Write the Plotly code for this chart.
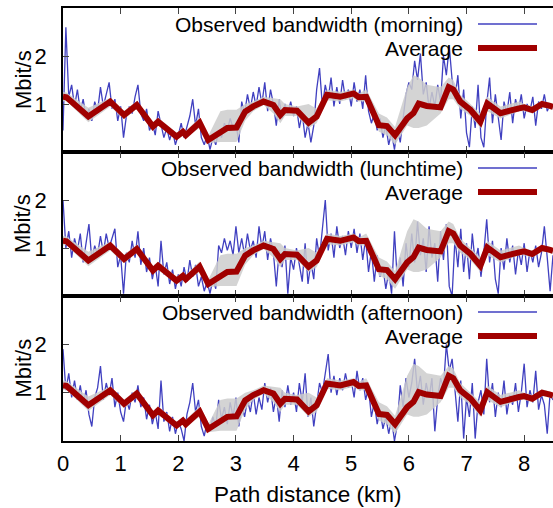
import numpy as np
import plotly.graph_objects as go
from plotly.subplots import make_subplots

# ---------------- data ----------------
periods = ["morning", "lunchtime", "afternoon"]

# observed bandwidth samples (Mbit/s), evenly spaced along 0..8.5 km
bw_morning = [
    0.45, 2.6, 1.15, 1.4, 0.95, 1.3, 0.85, 1.1, 0.7, 0.9,
    0.65, 1.05, 0.85, 1.35, 0.95, 1.2, 1.45, 0.9, 1.1, 0.65,
    0.95, 0.3, 0.75, 0.95, 0.8, 1.15, 1.4, 0.8, 0.65, 0.9,
    0.45, 0.6, 0.35, 0.85, 0.55, 0.3, 0.5, 0.25, 0.45, 0.15,
    0.35, 0.6, 0.3, 0.5, 0.75, 1.1, 0.55, 0.9, 0.3, 0.15,
    0.35, 0.05, 0.3, 0.15, 0.45, 0.3, 0.6, 0.45, 0.7, 0.5,
    0.6, 0.2, 1.05, 0.8, 1.2, 0.9, 1.25, 0.95, 1.35, 1.0,
    1.45, 0.85, 1.3, 1.0, 0.55, 1.1, 0.7, 1.0, 0.8, 1.05,
    0.75, 0.95, 0.5, 0.8, 0.3, 0.6, 0.2, 0.55, 1.3, 1.75,
    0.95, 1.4, 1.1, 1.55, 0.95, 1.35, 1.0, 1.5, 1.1, 1.3,
    0.95, 1.45, 1.05, 1.3, 0.9, 1.6, 0.85, 0.6, 0.8, 0.45,
    0.7, 0.3, 0.55, 0.15, 0.4, 0.05, 0.5, 0.2, 0.75, 1.2,
    1.45, 1.3, 1.9, 1.5, 2.05, 1.2, 1.45, 0.9, 1.25, 0.95,
    1.4, 1.05, 2.0, 1.6, 2.2, 1.5, 1.1, 1.6, 0.7, 1.3,
    0.4, 0.1, 0.95, 0.5, 1.4, 0.3, 0.1, 1.0, 1.55, 0.6,
    1.2, 0.7, 0.25, 1.05, 0.8, 1.25, 0.6, 1.1, 0.85, 1.2,
    0.7, 1.0, 0.85, 1.15, 0.55, 1.05, 0.9, 1.2, 0.85, 1.0,
    0.9,
]
bw_lunchtime = [
    2.0, 1.0, 1.35, 0.8, 1.2, 0.95, 1.3, 0.7, 1.1, 1.5,
    0.75, 1.05, 0.85, 1.25, 0.9, 1.3, 1.0, 1.2, 1.4, 0.6,
    0.85, 0.05, 0.9, 0.7, 1.15, 0.8, 1.35, 0.65, 1.0, 0.5,
    0.8, 0.35, 0.65, 0.2, 1.15, 0.45, 0.7, 0.25, 0.55, 0.15,
    0.45, 0.2, 0.6, 0.3, 0.75, 0.4, 0.65, 0.2, 0.4, 0.1,
    0.3, 0.05, 0.35, 0.15, 1.05, 0.9, 1.2, 0.95, 1.15, 0.85,
    1.45, 0.9, 1.2, 0.85, 1.3, 0.95, 1.15, 0.8, 1.45, 1.0,
    1.35, 0.75, 1.2, 0.9, 0.2, 0.95, 0.6, 1.05, 0.05, 0.8,
    0.55, 1.0, 0.6, 0.3, 1.1, 0.25, 0.7, 0.35, 1.2, 0.8,
    1.4, 2.0, 0.95, 1.3, 0.8, 1.45, 1.0, 1.25, 0.85, 1.35,
    1.0, 1.4, 0.9, 1.3, 0.75, 1.2, 0.5, 0.95, 0.3, 0.85,
    0.4, 0.6, 0.15, 0.5, 0.05, 1.35, 0.3, 0.8, 0.2, 1.1,
    0.6, 1.3, 0.7, 1.55, 0.85, 1.2, 0.5, 1.45, 0.8, 1.1,
    0.3, 1.35, 0.75, 1.5, 0.2, 0.0, 1.2, 0.6, 1.4, 0.5,
    1.1, 0.35, 1.3, 0.7, 1.0, 0.4, 0.9, 1.6, 0.7, 1.15,
    0.35, 0.05, 1.0, 0.55, 1.2, 0.7, 1.05, 0.45, 0.95, 0.65,
    1.1, 0.5, 0.95, 0.7, 1.05, 0.6, 0.9, 1.45, 0.8, 0.1,
    0.85,
]
bw_afternoon = [
    1.9, 1.05, 1.4, 0.9, 1.25, 0.85, 1.15, 0.75, 1.05, 0.55,
    0.3, 0.9, 1.1, 1.55, 0.85, 1.2, 0.95, 1.3, 0.7, 1.0,
    0.6, 0.4, 0.85, 0.65, 1.0, 0.8, 1.15, 0.7, 0.9, 0.45,
    0.75, 0.35, 0.6, 0.25, 1.25, 0.4, 0.6, 0.2, 0.5, 0.15,
    0.4, 0.25, 0.0, 0.55, 0.8, 1.2, 0.6, 0.85, 0.3, 0.1,
    0.4, 0.2, 0.5, 0.3, 0.85, 0.45, 0.7, 0.35, 0.8, 0.5,
    0.9, 0.3, 0.75, 0.5, 0.85, 0.6, 1.0, 0.55, 0.9, 0.65,
    1.2, 0.8, 1.1, 0.6, 0.95, 0.4, 1.05, 0.7, 1.15, 0.75,
    1.0, 0.6, 1.2, 0.8, 1.4, 0.5, 0.9, 0.3, 0.75, 1.2,
    1.0, 1.45, 1.8, 1.0, 1.35, 0.95, 1.3, 1.05, 1.4, 1.1,
    1.25, 0.9, 1.45, 1.05, 1.3, 0.85, 1.1, 0.5, 0.8, 0.35,
    0.65, 0.25, 0.5, 0.15, 0.45, 0.0, 0.35, 1.15, 0.7, 1.3,
    0.9, 1.2, 1.7, 1.0, 1.35, 0.75, 1.2, 0.9, 1.3, 0.2,
    0.9, 1.3, 1.1, 2.0, 1.45, 1.7, 1.0, 0.4, 1.25, 0.05,
    0.9, 0.5, 1.2, 0.05, 0.8, 1.05, 0.55, 1.7, 0.8, 1.2,
    0.5, 1.0, 0.7, 1.25, 0.55, 0.95, 0.75, 1.2, 0.6, 1.0,
    1.6, 0.7, 1.05, 0.8, 1.45, 0.65, 0.95, 0.75, 0.15, 1.0,
    0.85,
]
observed = [bw_morning, bw_lunchtime, bw_afternoon]

# running average (km, Mbit/s) and its spread band
avg_km = [0.0, 0.06, 0.44, 0.82, 1.06, 1.28, 1.56, 1.65, 1.97, 2.08, 2.13,
          2.37, 2.52, 2.73, 2.85, 3.01, 3.16, 3.30, 3.48, 3.65, 3.77, 3.85,
          4.06, 4.26, 4.40, 4.58, 4.81, 5.04, 5.13, 5.26, 5.48, 5.62, 5.76,
          5.97, 6.08, 6.17, 6.31, 6.55, 6.69, 6.77, 6.89, 7.07, 7.24, 7.36,
          7.59, 7.91, 8.00, 8.14, 8.31, 8.45, 8.50]
avg_bw = [1.15, 1.14, 0.74, 1.05, 0.77, 0.98, 0.53, 0.63, 0.32, 0.42, 0.35,
          0.61, 0.25, 0.42, 0.50, 0.51, 0.84, 0.95, 1.05, 0.98, 0.77, 0.875,
          0.86, 0.61, 0.74, 1.19, 1.15, 1.22, 1.14, 1.15, 0.56, 0.54, 0.35,
          0.70, 0.81, 1.01, 0.96, 0.93, 1.35, 1.30, 1.05, 0.875, 0.63, 1.01,
          0.81, 0.91, 0.93, 0.875, 1.00, 0.96, 0.94]
band_lo = [1.05, 1.06, 0.62, 0.95, 0.68, 0.90, 0.45, 0.55, 0.25, 0.35, 0.30,
           0.50, 0.18, 0.21, 0.21, 0.21, 0.65, 0.85, 0.98, 0.80, 0.60, 0.75,
           0.75, 0.50, 0.60, 1.08, 1.05, 1.12, 1.05, 1.05, 0.42, 0.35, 0.15,
           0.55, 0.50, 0.50, 0.55, 0.80, 1.10, 1.10, 0.90, 0.75, 0.50, 0.85,
           0.70, 0.85, 0.85, 0.80, 0.93, 0.90, 0.88]
band_hi = [1.25, 1.24, 0.92, 1.13, 0.86, 1.06, 0.62, 0.72, 0.40, 0.50, 0.44,
           0.72, 0.34, 0.85, 0.88, 0.88, 1.00, 1.05, 1.15, 1.12, 1.10, 1.00,
           0.95, 1.00, 0.90, 1.30, 1.25, 1.30, 1.22, 1.30, 0.80, 0.72, 0.52,
           1.35, 1.60, 1.55, 1.40, 1.35, 1.55, 1.50, 1.20, 1.00, 0.80, 1.15,
           0.95, 1.05, 1.00, 0.95, 1.07, 1.02, 1.00]

x_ticks = [0, 1, 2, 3, 4, 5, 6, 7, 8]
y_ticks = [1, 2]

# ---------------- styles ----------------
FONT = "Liberation Sans, Arial, Helvetica, sans-serif"
FS = 22
LEG_FS = 21
BLUE = "#4040c0"
RED = "#a00000"
BAND = "rgba(205,205,205,0.85)"

fig = make_subplots(rows=3, cols=1, shared_xaxes=True, vertical_spacing=0)

for r, (name, vals) in enumerate(zip(periods, observed), start=1):
    km = np.linspace(0, 8.5, len(vals))
    fig.add_trace(go.Scatter(x=km, y=vals, mode="lines",
                             line=dict(color=BLUE, width=1.3),
                             showlegend=False, hoverinfo="skip"), row=r, col=1)
    fig.add_trace(go.Scatter(x=avg_km, y=band_lo, mode="lines",
                             line=dict(width=0, color=BAND),
                             showlegend=False, hoverinfo="skip"), row=r, col=1)
    fig.add_trace(go.Scatter(x=avg_km, y=band_hi, mode="lines", fill="tonexty",
                             fillcolor=BAND, line=dict(width=0, color=BAND),
                             showlegend=False, hoverinfo="skip"), row=r, col=1)
    fig.add_trace(go.Scatter(x=avg_km, y=avg_bw, mode="lines",
                             line=dict(color=RED, width=6),
                             showlegend=False, hoverinfo="skip"), row=r, col=1)

# panel geometry (paper coords)
top_px, bot_px, H = 8, 441, 508
span = bot_px - top_px
edges = [1.0, (bot_px - 152) / span, (bot_px - 296) / span, 0.0]

for i in range(3):
    ax_suffix = "" if i == 0 else str(i + 1)
    fig.layout["yaxis" + ax_suffix].update(
        domain=[edges[i + 1], edges[i]], range=[0, 3],
        tickvals=y_ticks, ticks="inside", ticklen=6, tickwidth=1,
        ticklabelstandoff=10, automargin=False,
        showline=True, linecolor="black", linewidth=1.5, mirror=True,
        showgrid=False, zeroline=False,
        tickfont=dict(family=FONT, size=FS, color="black"),
    )
    fig.layout["xaxis" + ax_suffix].update(
        range=[0, 8.5], tickvals=x_ticks, ticks="inside", ticklen=6, tickwidth=1,
        ticklabelstandoff=2, automargin=False,
        showline=True, linecolor="black", linewidth=1.5, mirror="allticks",
        showgrid=False, zeroline=False,
        tickfont=dict(family=FONT, size=FS, color="black"),
    )
    # y-axis title, placed closer to tick labels than plotly's automatic title
    fig.add_annotation(xref="paper", yref="paper", x=-(63 - 23) / 490,
                       y=(edges[i] + edges[i + 1]) / 2, text="Mbit/s",
                       textangle=-90, showarrow=False, xanchor="center",
                       yanchor="middle",
                       font=dict(family=FONT, size=FS, color="black"))

fig.layout.xaxis3.update(showticklabels=True)

# x-axis title near the bottom edge, kept fully inside the canvas
fig.add_annotation(xref="paper", yref="paper", x=0.5, y=-(494 - bot_px) / span,
                   text="Path distance (km)", showarrow=False,
                   xanchor="center", yanchor="middle",
                   font=dict(family=FONT, size=22.5, color="black"))

# legends (text on the left, sample line on the right)
panel_tops = [8, 152, 296]
for i, name in enumerate(periods):
    for j, (label, color, w) in enumerate([
            (f"Observed bandwidth ({name})", BLUE, 1.3),
            ("Average", RED, 6)]):
        ypx = panel_tops[i] + 16 + 24 * j
        yp = (bot_px - ypx) / span
        fig.add_annotation(xref="paper", yref="paper", x=(464 - 63) / 490, y=yp,
                           text=label, showarrow=False, xanchor="right",
                           yanchor="middle", borderpad=0,
                           font=dict(family=FONT, size=LEG_FS, color="black"))
        fig.add_shape(type="line", xref="paper", yref="paper",
                      x0=(478 - 63) / 490, x1=(537 - 63) / 490, y0=yp, y1=yp,
                      line=dict(color=color, width=w))

fig.update_layout(
    width=553, height=508,
    margin=dict(l=63, r=0, t=top_px, b=H - bot_px),
    paper_bgcolor="white", plot_bgcolor="white",
    font=dict(family=FONT, size=FS, color="black"),
    showlegend=False,
)

fig.write_html("out.html")
